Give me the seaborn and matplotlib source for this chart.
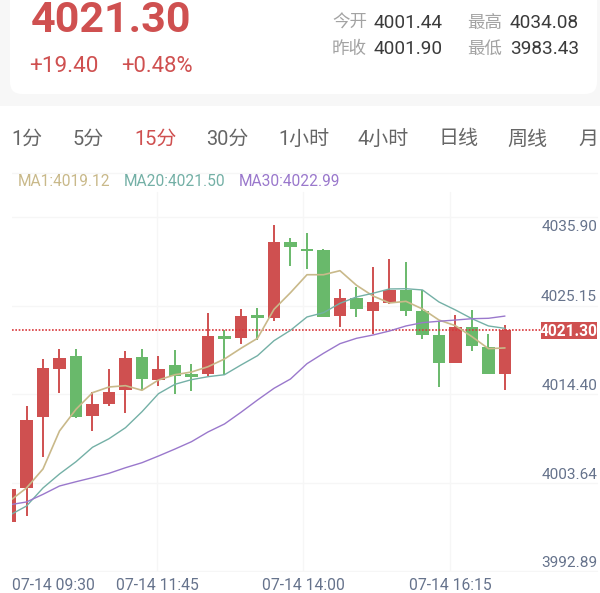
import matplotlib
matplotlib.use('Agg')
import matplotlib.pyplot as plt
from matplotlib.patches import FancyBboxPatch, Rectangle
import numpy as np
import pandas as pd
import seaborn as sns

# candles
opens = [3997.95, 4002.12, 4010.70, 4016.53, 4018.11, 4010.86, 4012.35, 4014.05, 4018.02, 4015.27, 4017.01,
         4015.92, 4015.92, 4020.54, 4020.37, 4023.08, 4022.76, 4032.02, 4031.13, 4031.01, 4023.04, 4025.15,
         4023.64, 4024.61, 4026.19, 4023.57, 4020.66, 4017.29, 4021.63, 4019.20, 4015.99]
highs = [4002.00, 4012.07, 4017.74, 4018.96, 4018.96, 4013.74, 4016.60, 4018.71, 4018.96, 4018.11, 4018.84,
         4017.21, 4023.33, 4021.30, 4023.85, 4024.01, 4034.08, 4032.51, 4033.11, 4031.10, 4026.24, 4026.52,
         4028.95, 4029.88, 4029.56, 4026.16, 4022.31, 4023.12, 4023.76, 4020.85, 4021.87]
lows = [3997.95, 3998.72, 4005.92, 4013.69, 4010.62, 4009.08, 4012.07, 4011.19, 4014.02, 4014.54, 4013.49,
        4013.93, 4015.75, 4015.87, 4019.64, 4020.05, 4022.43, 4029.11, 4028.74, 4022.91, 4021.66, 4022.91,
        4020.81, 4024.46, 4023.00, 4020.17, 4014.42, 4017.25, 4018.79, 4015.99, 4014.02]
closes = [4002.00, 4010.37, 4016.72, 4017.86, 4010.77, 4012.28, 4013.74, 4017.86, 4015.31, 4016.57, 4015.68,
          4015.63, 4020.54, 4020.21, 4023.00, 4022.76, 4032.02, 4031.34, 4030.93, 4022.91, 4025.15, 4023.89,
          4024.70, 4026.19, 4023.64, 4020.69, 4017.29, 4021.63, 4019.32, 4015.99, 4021.30]

ma1 = [4000.58, 4002.12, 4004.43, 4009.04, 4011.67, 4013.69, 4014.38, 4014.54, 4013.98, 4015.23, 4015.87,
       4016.20, 4016.84, 4017.78, 4019.08, 4020.29, 4023.81, 4025.83, 4028.01, 4028.01, 4028.50, 4026.73,
       4025.43, 4024.58, 4024.78, 4023.85, 4022.51, 4021.82, 4020.49, 4019.03, 4019.12]
ma20 = [3998.84, 3999.93, 4002.12, 4003.82, 4005.31, 4007.06, 4008.10, 4009.44, 4011.38, 4013.57, 4014.71,
        4015.27, 4015.63, 4015.87, 4017.05, 4018.18, 4020.00, 4021.26, 4022.88, 4023.40, 4024.54, 4025.31,
        4025.76, 4026.28, 4026.31, 4026.16, 4024.70, 4023.73, 4022.67, 4021.79, 4021.50]
ma30 = [4000.09, 4000.42, 4001.35, 4002.36, 4002.88, 4003.37, 4003.90, 4004.58, 4005.19, 4006.00, 4006.85,
        4007.74, 4008.92, 4009.89, 4011.31, 4012.80, 4014.22, 4015.35, 4017.21, 4018.47, 4019.64, 4020.29,
        4020.69, 4021.18, 4021.79, 4022.19, 4022.36, 4022.51, 4022.67, 4022.72, 4022.99]

grid_values = [4035.02, 4024.27, 4013.52, 4002.77, 3992.02]
y_labels = ['4035.90', '4025.15', '4014.40', '4003.64', '3992.89']
x_ticks = [8.93, 17.78, 26.69]
x_labels = ['07-14 11:45', '07-14 14:00', '07-14 16:15']
tabs = ['1分', '5分', '15分', '30分', '1小时', '4小时', '日线', '周线', '月']
last_price = 4021.30

RED = '#cf5050'
GREEN = '#69b96b'
TAN = '#c9b98a'
TEAL = '#74b0a6'
PURPLE = '#9a78cc'
GRID = '#f6f6f6'
AXIS_TXT = '#66738c'
W, H = 600, 593

sns.set_theme(style='white')
plt.rcParams['font.family'] = ['Roboto', 'Noto Sans CJK SC', 'DejaVu Sans']

fig = plt.figure(figsize=(6, 5.93), dpi=100, facecolor='#f7f7f7')

# background cards, in image pixels
bg = fig.add_axes([0, 0, 1, 1], zorder=-1, facecolor='none')
bg.set_xlim(0, W)
bg.set_ylim(H, 0)
bg.axis('off')
bg.add_patch(FancyBboxPatch((10, -40), 587, 134, boxstyle='round,pad=0,rounding_size=12', fc='white', ec='none'))
bg.add_patch(FancyBboxPatch((-20, 106), 640, 600, boxstyle='round,pad=0,rounding_size=6', fc='white', ec='none'))


def txt(x, y, s, size, color, weight='normal', ha='left'):
    # x, y in image pixels, size in pixels
    fig.text(x / W, 1 - y / H, s, fontsize=size * 0.72, color=color, fontweight=weight, ha=ha, va='center')


txt(31, 20, '4021.30', 43, RED, 'bold')
txt(29, 66, '+19.40', 22.5, RED)
txt(121, 66, '+0.48%', 22, RED)
for x, y, s in [(332, 23, '今开'), (467, 23, '最高'), (332, 49, '昨收'), (467, 49, '最低')]:
    txt(x, y, s, 17.5, '#a3a3a3')
for x, y, s in [(374, 23, '4001.44'), (510, 23, '4034.08'), (374, 49, '4001.90'), (510, 49, '3983.43')]:
    txt(x, y, s, 19, '#3b3b3b')

for x, s in zip([11, 73, 134, 206, 278, 358, 439, 507, 578], tabs):
    txt(x, 139, s, 20, RED if s == '15分' else '#666666')

txt(18, 182, 'MA1:4019.12', 15.5, TAN)
txt(124, 182, 'MA20:4021.50', 15.5, TEAL)
txt(239, 182, 'MA30:4022.99', 15.5, PURPLE)

# chart area, x 12-600 and y 172-572 in image pixels
ax = fig.add_axes([12 / W, 1 - 572 / H, 588 / W, 400 / H], facecolor='none')
df = pd.DataFrame({'i': np.arange(len(opens)), 'open': opens, 'high': highs, 'low': lows, 'close': closes,
                   'ma1': ma1, 'ma20': ma20, 'ma30': ma30})
ax.set_xlim(0.121, 35.76)
ax.set_ylim(3991.92, 4040.48)
sns.despine(ax=ax, left=True, bottom=True)

for v in grid_values:
    ax.axhline(v, xmax=585 / 588, color=GRID, lw=1, zorder=0)
ax.axhline(4040.3, xmax=585 / 588, color=GRID, lw=1, zorder=0)
for v in x_ticks:
    ax.axvline(v, ymax=0.95, color=GRID, lw=1, zorder=0)

up = df['close'] >= df['open']
colors = np.where(up, RED, GREEN)
ax.vlines(df['i'], df['low'], df['high'], colors=colors, lw=1.4, zorder=2)
ax.bar(df['i'], (df['close'] - df['open']).abs(), bottom=df[['open', 'close']].min(axis=1), width=0.76,
       color=colors, edgecolor='none', zorder=2)

ax.axhline(last_price, xmax=(541 - 12) / 588, color='#d9363a', lw=1.2, ls=(0, (1, 1)), zorder=3)
sns.lineplot(data=df, x='i', y='ma1', color=TAN, lw=1.2, ax=ax, zorder=4)
sns.lineplot(data=df, x='i', y='ma20', color=TEAL, lw=1.0, ax=ax, zorder=4)
sns.lineplot(data=df, x='i', y='ma30', color=PURPLE, lw=1.0, ax=ax, zorder=4)

ax.set_xlabel('')
ax.set_ylabel('')
ax.set_yticks([])
ax.set_xticks(x_ticks)
ax.set_xticklabels(x_labels, fontsize=15.7 * 0.72, color=AXIS_TXT)
ax.tick_params(axis='x', length=0, pad=4)

txt(12, 585, '07-14 09:30', 15.7, AXIS_TXT)
for y, s in zip([227, 297, 386, 475, 563], y_labels):
    txt(597, y, s, 15.4, AXIS_TXT, ha='right')

fig.add_artist(Rectangle((541 / W, 1 - 339 / H), 56 / W, 17 / H, fc=RED, ec='none', transform=fig.transFigure))
txt(597, 331, '4021.30', 15.5, 'white', 'bold', ha='right')

fig.savefig('out.png', dpi=100, facecolor=fig.get_facecolor())
